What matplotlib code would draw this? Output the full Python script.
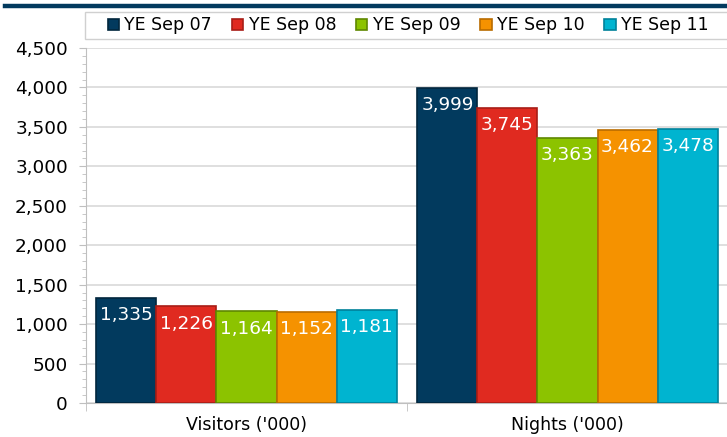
import matplotlib
matplotlib.use("Agg")
import matplotlib.pyplot as plt
from matplotlib.ticker import MultipleLocator, FixedLocator
from matplotlib.patches import Rectangle
import numpy as np

categories = ["Visitors ('000)", "Nights ('000)"]
series = ["YE Sep 07", "YE Sep 08", "YE Sep 09", "YE Sep 10", "YE Sep 11"]
values = {
    "YE Sep 07": [1335, 3999],
    "YE Sep 08": [1226, 3745],
    "YE Sep 09": [1164, 3363],
    "YE Sep 10": [1152, 3462],
    "YE Sep 11": [1181, 3478],
}
colors = ["#023a5e", "#e02a20", "#8cc300", "#f59200", "#00b4d0"]
edges = ["#01263d", "#a81d16", "#5f8700", "#b96c00", "#00819a"]

W, H = 727, 437
fig = plt.figure(figsize=(W / 100, H / 100), dpi=100)
# top dark band
fig.add_artist(plt.Line2D([5 / W, 1.0], [1 - 5.5 / H, 1 - 5.5 / H], color="#023a5e", lw=3.2,
                          transform=fig.transFigure))
# legend frame
fig.add_artist(Rectangle((85 / W, 1 - 39 / H), (W - 85 + 5) / W, 27 / H, transform=fig.transFigure,
                         facecolor="white", edgecolor="#d0d0d0", lw=1.0))

ax = fig.add_axes([86 / W, 1 - 403 / H, (W + 1 - 86) / W, (403 - 48) / H])
w = 0.187
x = np.arange(len(categories))
for i, s in enumerate(series):
    pos = x + (i - 2) * w
    bars = ax.bar(pos, values[s], width=w, color=colors[i], edgecolor=edges[i], linewidth=1.2,
                  zorder=3, label=s)
    for b, v in zip(bars, values[s]):
        ax.annotate(f"{v:,}", (b.get_x() + b.get_width() / 2, v), xytext=(0, -12.5),
                    textcoords="offset points", ha="center", va="center",
                    color="white", fontsize=13.3, zorder=4)

ax.set_xlim(-0.5, 1.5)
ax.set_ylim(0, 4500)
ax.yaxis.set_major_locator(MultipleLocator(500))
ax.yaxis.set_minor_locator(MultipleLocator(100))
ax.yaxis.set_major_formatter(matplotlib.ticker.FuncFormatter(lambda v, p: f"{int(v):,}"))
ax.set_xticks(x)
ax.set_xticklabels(categories)
ax.xaxis.set_minor_locator(FixedLocator([-0.5, 0.5, 1.5]))
ax.tick_params(axis="x", which="major", length=0, labelsize=12.5, pad=9)
ax.tick_params(axis="x", which="minor", length=6, color="#bfbfbf")
ax.tick_params(axis="y", which="major", length=5, labelsize=13.3, color="#bfbfbf", pad=8)
ax.tick_params(axis="y", which="minor", length=3, color="#bfbfbf")
ax.grid(axis="y", which="major", color="#d9d9d9", lw=1.2, zorder=0)
for sp in ["top", "right"]:
    ax.spines[sp].set_visible(False)
for sp in ["left", "bottom"]:
    ax.spines[sp].set_color("#bfbfbf")

leg = fig.legend(loc="center left", bbox_to_anchor=(108 / W, 1 - 25.5 / H), ncol=5, frameon=False,
                 fontsize=12.5, handlelength=0.65, handleheight=0.65, handletextpad=0.3,
                 columnspacing=1.15, borderpad=0.0, borderaxespad=0.0)

fig.savefig("out.png", dpi=100)
